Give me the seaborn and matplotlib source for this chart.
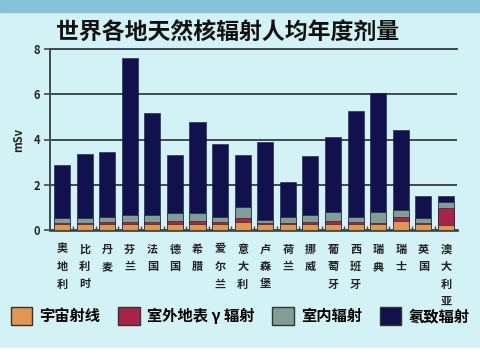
import numpy as np
import pandas as pd
import matplotlib
matplotlib.use('Agg')
import matplotlib.pyplot as plt
import seaborn as sns
from matplotlib.patches import Patch, Rectangle

countries = ['奥地利', '比利时', '丹麦', '芬兰', '法国', '德国', '希腊', '爱尔兰', '意大利',
             '卢森堡', '荷兰', '挪威', '葡萄牙', '西班牙', '瑞典', '瑞士', '英国', '澳大利亚']
cosmic  = [0.25, 0.25, 0.25, 0.25, 0.25, 0.25, 0.25, 0.25, 0.35, 0.25, 0.25, 0.25, 0.25, 0.25, 0.25, 0.40, 0.25, 0.22]
outdoor = [0.07, 0.07, 0.09, 0.11, 0.11, 0.16, 0.16, 0.09, 0.18, 0.05, 0.06, 0.11, 0.16, 0.09, 0.08, 0.18, 0.05, 0.74]
indoor  = [0.20, 0.20, 0.25, 0.30, 0.30, 0.35, 0.35, 0.25, 0.50, 0.14, 0.25, 0.30, 0.40, 0.25, 0.45, 0.30, 0.24, 0.29]
radon   = [2.35, 2.84, 2.85, 6.95, 4.51, 2.55, 4.02, 3.21, 2.28, 3.43, 1.57, 2.62, 3.28, 4.66, 5.28, 3.54, 0.97, 0.26]
series_names = ['宇宙射线', '室外地表 γ 辐射', '室内辐射', '氡致辐射']
series_colors = ['#e2964e', '#a8254a', '#7f9e96', '#11114e']
yticks = [0, 2, 4, 6, 8]

df = pd.DataFrame({'country': countries, 'cosmic': cosmic, 'outdoor': outdoor,
                   'indoor': indoor, 'radon': radon})
df['c1'] = df['cosmic']
df['c2'] = df['c1'] + df['outdoor']
df['c3'] = df['c2'] + df['indoor']
df['c4'] = df['c3'] + df['radon']

plt.rcParams['font.family'] = ['Noto Sans CJK SC', 'DejaVu Sans']
plt.rcParams['axes.unicode_minus'] = False

fig = plt.figure(figsize=(4.8, 3.6), dpi=100, facecolor='#d3f2f5')
fig.patches.append(Rectangle((0, 1 - 12 / 360), 1, 12 / 360, transform=fig.transFigure,
                             color='#86c3da', zorder=0))
fig.patches.append(Rectangle((0, 0), 1, 12 / 360, transform=fig.transFigure,
                             color='white', zorder=0))

ax = fig.add_axes([50 / 480, 130 / 360, 407 / 480, 181 / 360])
ax.set_facecolor('none')

for col, color in zip(['c4', 'c3', 'c2', 'c1'], series_colors[::-1]):
    sns.barplot(data=df, x='country', y=col, color=color, saturation=1, width=0.71,
                errorbar=None, ax=ax, edgecolor='#1a1a3a', linewidth=0.4, zorder=3)

ax.set_ylim(0, 8)
ax.set_xlim(-0.53, 17.49)
ax.set_yticks(yticks)
ax.set_yticklabels([str(t) for t in yticks], fontsize=8, fontweight='bold', color='#222222')
ax.yaxis.grid(True, color='#3d4b50', linewidth=1.4, zorder=1)
ax.set_axisbelow(True)
ax.tick_params(axis='y', length=4, width=1.2, color='#3d4b50', pad=3)
ax.set_xticks(range(len(countries)))
ax.set_xticklabels(['\n'.join(c) for c in countries], fontsize=8, fontweight='bold',
                   linespacing=1.45, va='top', color='#222222')
ax.tick_params(axis='x', length=0, pad=9)
ax.set_xticks(np.arange(len(countries) - 1) + 0.5, minor=True)
ax.tick_params(axis='x', which='minor', length=3, direction='in', width=1, color='#3d4b50')
ax.set_xlabel('')
ax.set_ylabel('mSv', fontsize=8, fontweight='bold', labelpad=6, color='#222222')
for s in ['left', 'top', 'bottom']:
    ax.spines[s].set_color('#3d4b50')
    ax.spines[s].set_linewidth(1.4)
ax.spines['bottom'].set_linewidth(2)
ax.spines['right'].set_visible(False)

fig.text(228 / 480, 1 - 32 / 360, '世界各地天然核辐射人均年度剂量', ha='center', va='center',
         fontsize=16.5, fontweight='bold', color='#111111')

handles = [Patch(facecolor=c, edgecolor='#333333', linewidth=1) for c in series_colors]
fig.legend(handles, series_names, loc='center', bbox_to_anchor=(0.5, 1 - 316 / 360), ncol=4,
           frameon=False, handlelength=1.4, handleheight=1.4, handletextpad=0.45,
           columnspacing=1.2, prop={'size': 11, 'weight': 'bold'})

fig.savefig('out.png', dpi=100, facecolor=fig.get_facecolor())
